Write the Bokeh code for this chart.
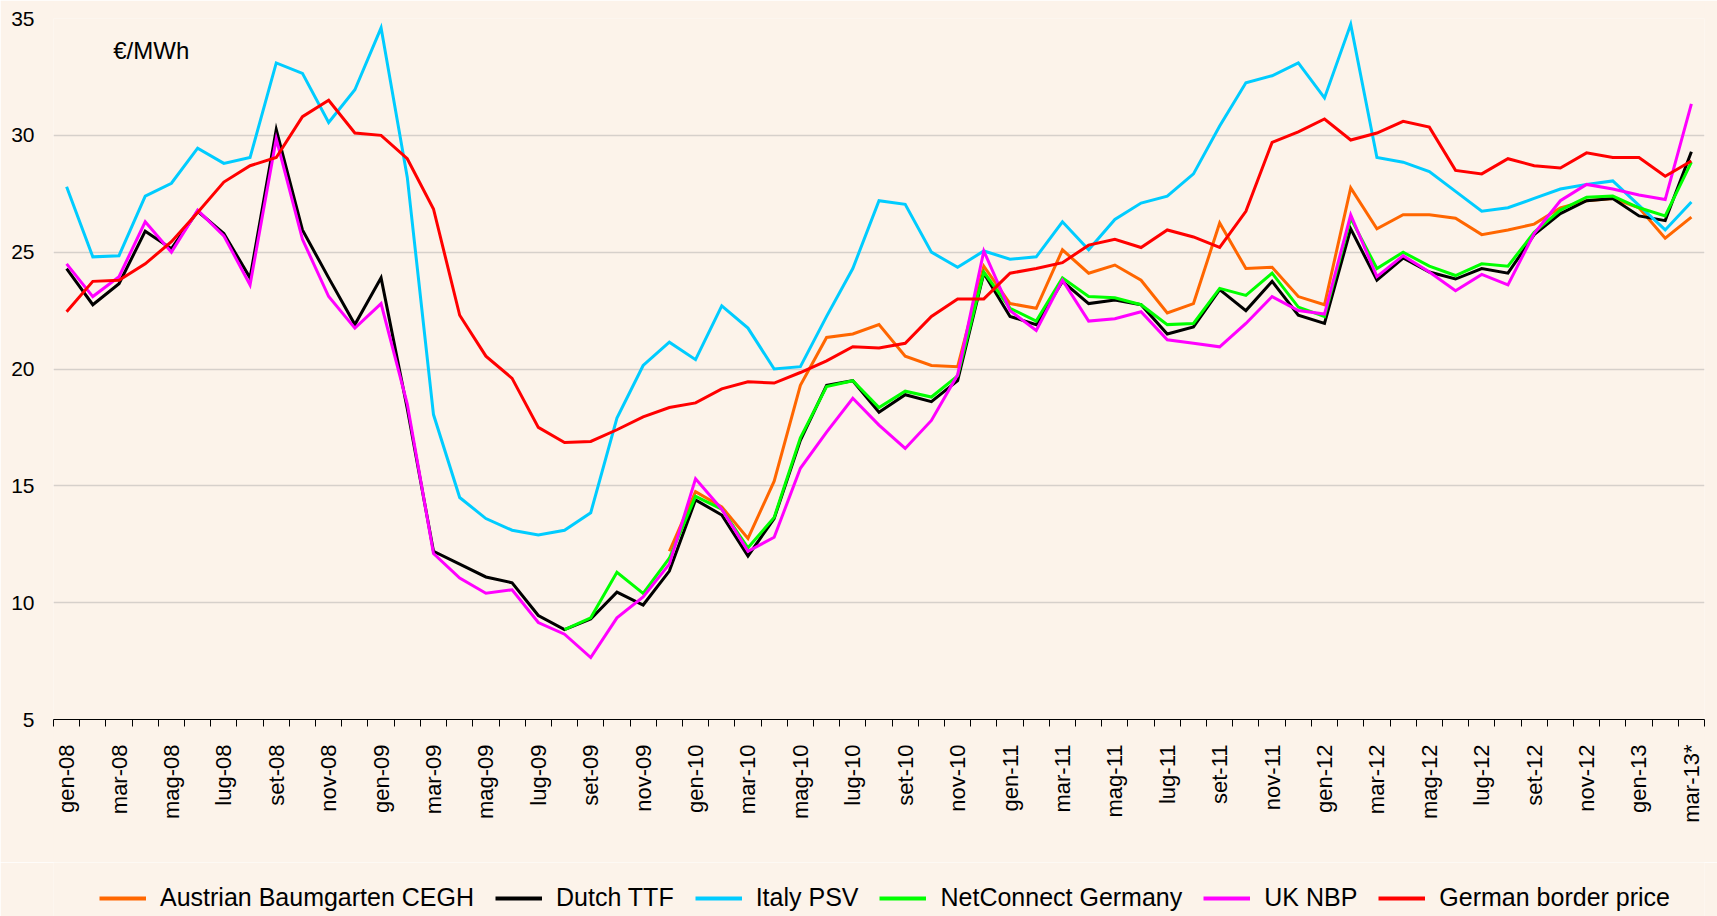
import math
from bokeh.plotting import figure
from bokeh.layouts import column
from bokeh.models import Range1d, FixedTicker, Legend, LegendItem, Label
from bokeh.embed import file_html
from bokeh.resources import INLINE

nan = float("nan")

months = [
    "gen-08", "feb-08", "mar-08", "apr-08", "mag-08", "giu-08", "lug-08", "ago-08", "set-08", "ott-08", "nov-08", "dic-08",
    "gen-09", "feb-09", "mar-09", "apr-09", "mag-09", "giu-09", "lug-09", "ago-09", "set-09", "ott-09", "nov-09", "dic-09",
    "gen-10", "feb-10", "mar-10", "apr-10", "mag-10", "giu-10", "lug-10", "ago-10", "set-10", "ott-10", "nov-10", "dic-10",
    "gen-11", "feb-11", "mar-11", "apr-11", "mag-11", "giu-11", "lug-11", "ago-11", "set-11", "ott-11", "nov-11", "dic-11",
    "gen-12", "feb-12", "mar-12", "apr-12", "mag-12", "giu-12", "lug-12", "ago-12", "set-12", "ott-12", "nov-12", "dic-12",
    "gen-13", "feb-13", "mar-13*",
]

austrian_cegh = [
    nan, nan, nan, nan, nan, nan, nan, nan, nan, nan, nan, nan,
    nan, nan, nan, nan, nan, nan, nan, nan, nan, nan, nan, 12.2,
    14.75, 14.1, 12.75, 15.2, 19.3, 21.35, 21.5, 21.9, 20.55, 20.15, 20.1, 24.4,
    22.8, 22.6, 25.1, 24.1, 24.45, 23.8, 22.4, 22.8, 26.25, 24.3, 24.35, 23.1,
    22.75, 27.75, 26.0, 26.6, 26.6, 26.45, 25.75, 25.95, 26.2, 26.9, 27.2, 27.3,
    26.9, 25.6, 26.5,
]

dutch_ttf = [
    24.3, 22.75, 23.65, 25.9, 25.15, 26.75, 25.8, 23.9, 30.25, 25.95, 23.9, 21.9,
    23.9, 18.3, 12.2, 11.65, 11.1, 10.85, 9.45, 8.85, 9.3, 10.45, 9.9, 11.35,
    14.4, 13.75, 12.0, 13.6, 16.95, 19.3, 19.5, 18.15, 18.9, 18.6, 19.5, 24.1,
    22.25, 21.9, 23.75, 22.8, 22.95, 22.75, 21.5, 21.8, 23.4, 22.5, 23.75, 22.3,
    21.95, 26.0, 23.8, 24.75, 24.15, 23.85, 24.3, 24.1, 25.75, 26.65, 27.2, 27.3,
    26.55, 26.35, 29.3,
]

italy_psv = [
    27.8, 24.8, 24.85, 27.4, 27.95, 29.45, 28.8, 29.05, 33.1, 32.65, 30.55, 31.95,
    34.6, 28.2, 18.05, 14.5, 13.6, 13.1, 12.9, 13.1, 13.85, 17.9, 20.15, 21.15,
    20.4, 22.7, 21.75, 20.0, 20.1, 22.25, 24.3, 27.2, 27.05, 25.0, 24.35, 25.05,
    24.7, 24.8, 26.3, 25.1, 26.4, 27.1, 27.4, 28.35, 30.4, 32.25, 32.55, 33.1,
    31.6, 34.75, 29.05, 28.85, 28.45, 27.6, 26.75, 26.9, 27.3, 27.7, 27.9, 28.05,
    27.0, 25.95, 27.15,
]

netconnect_germany = [
    nan, nan, nan, nan, nan, nan, nan, nan, nan, nan, nan, nan,
    nan, nan, nan, nan, nan, nan, nan, 8.85, 9.35, 11.3, 10.4, 11.9,
    14.55, 14.0, 12.35, 13.65, 17.05, 19.25, 19.5, 18.35, 19.05, 18.8, 19.7, 24.15,
    22.6, 22.05, 23.9, 23.1, 23.05, 22.75, 21.9, 21.95, 23.45, 23.15, 24.1, 22.65,
    22.25, 26.45, 24.3, 25.0, 24.4, 24.0, 24.5, 24.4, 25.85, 26.8, 27.35, 27.4,
    26.9, 26.55, 28.85,
]

uk_nbp = [
    24.5, 23.1, 23.95, 26.3, 25.0, 26.8, 25.7, 23.6, 29.85, 25.55, 23.1, 21.75,
    22.8, 18.5, 12.1, 11.05, 10.4, 10.55, 9.15, 8.65, 7.65, 9.35, 10.25, 11.65,
    15.3, 14.0, 12.2, 12.8, 15.75, 17.3, 18.75, 17.6, 16.6, 17.8, 19.75, 25.05,
    22.5, 21.65, 23.8, 22.05, 22.15, 22.45, 21.25, 21.1, 20.95, 21.95, 23.1, 22.5,
    22.35, 26.6, 23.95, 24.85, 24.15, 23.35, 24.05, 23.6, 25.8, 27.2, 27.9, 27.7,
    27.45, 27.25, 31.35,
]

german_border = [
    22.45, 23.75, 23.8, 24.5, 25.45, 26.7, 28.0, 28.7, 29.05, 30.8, 31.5, 30.1,
    30.0, 29.0, 26.85, 22.3, 20.55, 19.6, 17.5, 16.85, 16.9, 17.4, 17.95, 18.35,
    18.55, 19.15, 19.45, 19.4, 19.85, 20.35, 20.95, 20.9, 21.1, 22.25, 23.0, 23.0,
    24.1, 24.3, 24.55, 25.3, 25.55, 25.2, 25.95, 25.65, 25.2, 26.75, 29.7, 30.15,
    30.7, 29.8, 30.1, 30.6, 30.35, 28.5, 28.35, 29.0, 28.7, 28.6, 29.25, 29.05,
    29.05, 28.25, 28.9,
]

series_names = [
    "Austrian Baumgarten CEGH", "Dutch TTF", "Italy PSV",
    "NetConnect Germany", "UK NBP", "German border price",
]
series_values = [austrian_cegh, dutch_ttf, italy_psv, netconnect_germany, uk_nbp, german_border]
series_colors = ["#FF6600", "#000000", "#00CCFF", "#00FF00", "#FF00FF", "#FF0000"]

y_ticks = [5, 10, 15, 20, 25, 30, 35]
unit_label = "€/MWh"

BG = "#FCF3EA"
FONT = "Liberation Sans"

xs = list(range(len(months)))

# ---------- main chart ----------
p = figure(
    width=1717, height=862,
    output_backend="svg", toolbar_location=None,
    x_range=Range1d(-0.5, len(months) - 0.5),
    y_range=Range1d(5, 35),
    min_border_left=53, min_border_right=13, min_border_top=18, min_border_bottom=143,
    background_fill_color=BG, border_fill_color=BG,
)
p.outline_line_color = None

main_renderers = []
for name, vals, col in zip(series_names, series_values, series_colors):
    main_renderers.append(p.line(xs, vals, line_color=col, line_width=3, line_join="miter"))

xa = p.xaxis[0]
xa.ticker = FixedTicker(
    ticks=[i for i in xs if i % 2 == 0],
    minor_ticks=[i - 0.5 for i in range(len(months) + 1)],
)
xa.major_label_overrides = {i: months[i] for i in xs if i % 2 == 0}
xa.major_label_orientation = math.pi / 2
xa.major_tick_out = 0
xa.major_tick_in = 0
xa.minor_tick_out = 7
xa.minor_tick_in = 0
xa.minor_tick_line_color = "#000000"
xa.axis_line_color = "#000000"
xa.axis_line_width = 1
xa.major_label_standoff = 18
xa.major_label_text_font = FONT
xa.major_label_text_font_size = "22px"
xa.major_label_text_color = "#000000"

ya = p.yaxis[0]
ya.ticker = FixedTicker(ticks=y_ticks)
ya.axis_line_color = None
ya.major_tick_out = 0
ya.major_tick_in = 0
ya.minor_tick_out = 0
ya.minor_tick_in = 0
ya.major_label_standoff = 19
ya.major_label_text_font = FONT
ya.major_label_text_font_size = "21px"
ya.major_label_text_color = "#000000"

p.xgrid.visible = False
p.ygrid.grid_line_color = "#D6D0CB"
p.ygrid.grid_line_width = 1.5

p.add_layout(Label(x=1.78, y=33.65, text=unit_label, text_font=FONT,
                   text_font_size="24px", text_baseline="middle", text_align="left",
                   text_color="#000000"))

# ---------- legend strip ----------
lg = figure(
    width=1717, height=54,
    output_backend="svg", toolbar_location=None,
    x_range=Range1d(0, 1), y_range=Range1d(0, 1),
    x_axis_location=None, y_axis_location=None,
    min_border=0,
    background_fill_color=BG, border_fill_color=BG,
)
lg.outline_line_color = None
lg.grid.visible = False
lg_renderers = []
for name, col in zip(series_names, series_colors):
    # keys for the legend only: drawn outside the visible range
    lg_renderers.append(lg.line([5, 6], [5, 6], line_color=col, line_width=4))

legend = Legend(
    items=[LegendItem(label=n, renderers=[r]) for n, r in zip(series_names, lg_renderers)],
    orientation="horizontal",
    location=(46, 4),
    label_text_font=FONT,
    label_text_font_size="25px",
    label_text_color="#000000",
    glyph_width=47,
    glyph_height=20,
    label_height=20,
    label_standoff=14,
    spacing=21,
    padding=0,
    margin=0,
    background_fill_alpha=0,
    border_line_color=None,
)
lg.add_layout(legend)

layout = column(p, lg, spacing=0)

html = file_html(layout, INLINE)
html = html.replace("<body>", '<body style="margin:0;background-color:%s;">' % BG, 1)
open("out.html", "w").write(html)
